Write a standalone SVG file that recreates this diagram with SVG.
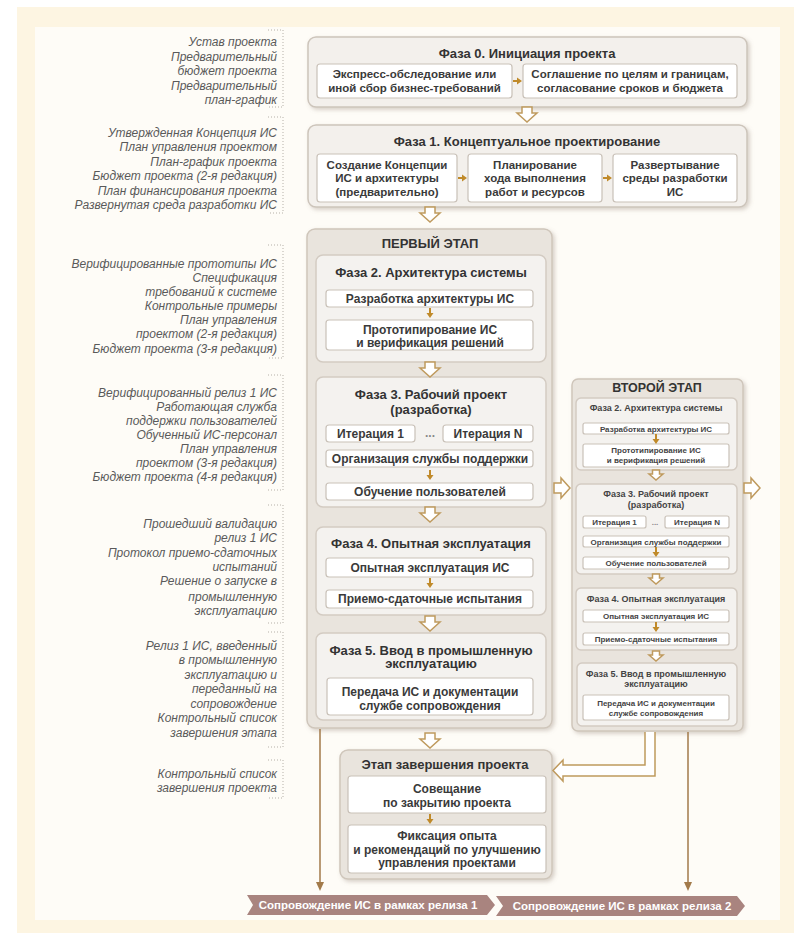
<svg xmlns="http://www.w3.org/2000/svg" width="794" height="933" viewBox="0 0 794 933">
<style>
text{font-family:"Liberation Sans",Arial,sans-serif;fill:#333;text-anchor:middle}
.lt{font-style:italic;font-size:12px;fill:#5a5a5a;text-anchor:end}
.ttl{font-weight:bold;font-size:13px}
.sub{font-weight:bold;font-size:11.5px;fill:#3a3a3a}
.sub1{font-weight:bold;font-size:12px;fill:#3a3a3a}
.s2t{font-weight:bold;font-size:9px;fill:#444}
.s2s{font-weight:bold;font-size:8px;fill:#444}
.ban{font-weight:bold;font-size:11.5px;fill:#fff}
.stage{fill:#e9e4dd;stroke:#cfc6bb;stroke-width:1.5;filter:url(#sh)}
.phase{fill:#f4f2ef;stroke:#d3cbc2;stroke-width:1.5}
.top{fill:#f3f0ec;stroke:#cdc5bb;stroke-width:1.5;filter:url(#sh)}
.box{fill:#fff;stroke:#c9c1b8;stroke-width:1.2}
.dot{stroke:#b5b0a8;stroke-width:1;stroke-dasharray:1,2;fill:none}
.hol{fill:#fff;stroke:#bf9a5e;stroke-width:1.5}
.sm{fill:#c08a2a}
.ln{stroke:#a27a4a;stroke-width:1.5;fill:none}
</style>
<defs>
<filter id="sh" x="-10%" y="-10%" width="125%" height="125%">
<feDropShadow dx="2" dy="2" stdDeviation="2" flood-color="#8a7a6a" flood-opacity="0.35"/>
</filter>
<path id="hd" d="M-5,0 V6 H-10 L0,15 L10,6 H5 V0 Z"/>
<path id="hds" d="M-3.5,0 V4 H-7 L0,10 L7,4 H3.5 V0 Z"/>
<path id="hr" d="M0,-5 H7 V-10 L16,0 L7,10 V5 H0 Z"/>
<path id="sd" d="M-1,0 H1 V5 H3.5 L0,10 L-3.5,5 H-1 Z"/>
<path id="sr" d="M0,-1 V1 H4 V3.5 L9,0 L4,-3.5 V-1 Z"/>
</defs>

<rect x="17" y="7" width="777" height="926" fill="#fdf5e2"/>
<rect x="35" y="27" width="745" height="893" fill="#fefcf7"/>

<g id="left-notes">
<g class="dot">
<path d="M268,30 H283 V107 H268"/>
<path d="M268,117 H283 V213 H268"/>
<path d="M268,245 H283 V358 H268"/>
<path d="M268,375 H283 V490 H268"/>
<path d="M268,505 H283 V623 H268"/>
<path d="M268,632 H283 V747 H268"/>
<path d="M268,760 H283 V798 H268"/>
</g>
<text class="lt" x="277" y="46">Устав проекта</text>
<text class="lt" x="277" y="60.5">Предварительный</text>
<text class="lt" x="277" y="75">бюджет проекта</text>
<text class="lt" x="277" y="89.5">Предварительный</text>
<text class="lt" x="277" y="104">план-график</text>

<text class="lt" x="277" y="136.5">Утвержденная Концепция ИС</text>
<text class="lt" x="277" y="151">План управления проектом</text>
<text class="lt" x="277" y="165.5">План-график проекта</text>
<text class="lt" x="277" y="180">Бюджет проекта (2-я редакция)</text>
<text class="lt" x="277" y="194.5">План финансирования проекта</text>
<text class="lt" x="277" y="209">Развернутая среда разработки ИС</text>

<text class="lt" x="277" y="267.5">Верифицированные прототипы ИС</text>
<text class="lt" x="277" y="282">Спецификация</text>
<text class="lt" x="277" y="296">требований к системе</text>
<text class="lt" x="277" y="310">Контрольные примеры</text>
<text class="lt" x="277" y="324">План управления</text>
<text class="lt" x="277" y="338">проектом (2-я редакция)</text>
<text class="lt" x="277" y="352.5">Бюджет проекта (3-я редакция)</text>

<text class="lt" x="277" y="396.5">Верифицированный релиз 1 ИС</text>
<text class="lt" x="277" y="410.5">Работающая служба</text>
<text class="lt" x="277" y="424.5">поддержки пользователей</text>
<text class="lt" x="277" y="438.5">Обученный ИС-персонал</text>
<text class="lt" x="277" y="452.5">План управления</text>
<text class="lt" x="277" y="466.5">проектом (3-я редакция)</text>
<text class="lt" x="277" y="481">Бюджет проекта (4-я редакция)</text>

<text class="lt" x="277" y="527.5">Прошедший валидацию</text>
<text class="lt" x="277" y="542">релиз 1 ИС</text>
<text class="lt" x="277" y="556.5">Протокол приемо-сдаточных</text>
<text class="lt" x="277" y="571">испытаний</text>
<text class="lt" x="277" y="585">Решение о запуске в</text>
<text class="lt" x="277" y="600.5">промышленную</text>
<text class="lt" x="277" y="615">эксплуатацию</text>

<text class="lt" x="277" y="649.5">Релиз 1 ИС, введенный</text>
<text class="lt" x="277" y="664">в промышленную</text>
<text class="lt" x="277" y="678.5">эксплуатацию и</text>
<text class="lt" x="277" y="693">переданный на</text>
<text class="lt" x="277" y="707.5">сопровождение</text>
<text class="lt" x="277" y="722">Контрольный список</text>
<text class="lt" x="277" y="736.5">завершения этапа</text>

<text class="lt" x="277" y="777.5">Контрольный список</text>
<text class="lt" x="277" y="792">завершения проекта</text>
</g>

<g id="phase0">
<rect class="top" x="308" y="37" width="439" height="70" rx="8"/>
<text class="ttl" x="527" y="57.5">Фаза 0. Инициация проекта</text>
<rect class="box" x="317" y="64" width="195" height="34" rx="3"/>
<text class="sub" x="414.5" y="77.5">Экспресс-обследование или</text>
<text class="sub" x="414.5" y="92">иной сбор бизнес-требований</text>
<rect class="box" x="523" y="64" width="214" height="34" rx="3"/>
<text class="sub" x="630" y="77.5">Соглашение по целям и границам,</text>
<text class="sub" x="630" y="92">согласование сроков и бюджета</text>
</g>

<g id="phase1">
<rect class="top" x="308" y="125" width="439" height="82" rx="8"/>
<text class="ttl" x="527" y="145.5">Фаза 1. Концептуальное проектирование</text>
<rect class="box" x="317" y="154" width="140" height="48" rx="3"/>
<text class="sub" x="387" y="168.5">Создание Концепции</text>
<text class="sub" x="387" y="182">ИС и архитектуры</text>
<text class="sub" x="387" y="196">(предварительно)</text>
<rect class="box" x="468" y="154" width="134" height="48" rx="3"/>
<text class="sub" x="535" y="168.5">Планирование</text>
<text class="sub" x="535" y="182">хода выполнения</text>
<text class="sub" x="535" y="196">работ и ресурсов</text>
<rect class="box" x="613" y="154" width="124" height="48" rx="3"/>
<text class="sub" x="675" y="168.5">Развертывание</text>
<text class="sub" x="675" y="182">среды разработки</text>
<text class="sub" x="675" y="196">ИС</text>
</g>

<g id="stage1">
<rect class="stage" x="307" y="229" width="245" height="499" rx="8"/>
<text class="ttl" x="430" y="247.5">ПЕРВЫЙ ЭТАП</text>
</g>

<g id="s1-phase2">
<rect class="phase" x="316" y="255" width="230" height="107" rx="7"/>
<text class="ttl" x="431" y="276.5">Фаза 2. Архитектура системы</text>
<rect class="box" x="326" y="290" width="207" height="17" rx="3"/>
<text class="sub1" x="430" y="303">Разработка архитектуры ИС</text>
<rect class="box" x="326" y="320" width="207" height="30" rx="3"/>
<text class="sub1" x="430" y="333.5">Прототипирование ИС</text>
<text class="sub1" x="430" y="347">и верификация решений</text>
</g>

<g id="s1-phase3">
<rect class="phase" x="316" y="377" width="230" height="130" rx="7"/>
<text class="ttl" x="431" y="398.5">Фаза 3. Рабочий проект</text>
<text class="ttl" x="431" y="413.5">(разработка)</text>
<rect class="box" x="326" y="425" width="89" height="17" rx="3"/>
<text class="sub1" x="370.5" y="437.5">Итерация 1</text>
<text class="sub1" x="430" y="437" style="fill:#888">...</text>
<rect class="box" x="443" y="425" width="90" height="17" rx="3"/>
<text class="sub1" x="488" y="437.5">Итерация N</text>
<rect class="box" x="326" y="450" width="207" height="17" rx="3"/>
<text class="sub1" x="430" y="462.5">Организация службы поддержки</text>
<rect class="box" x="326" y="483" width="207" height="17" rx="3"/>
<text class="sub1" x="430" y="495.5">Обучение пользователей</text>
</g>

<g id="s1-phase4">
<rect class="phase" x="316" y="527" width="230" height="88" rx="7"/>
<text class="ttl" x="431" y="547.5">Фаза 4. Опытная эксплуатация</text>
<rect class="box" x="326" y="558" width="207" height="19" rx="3"/>
<text class="sub1" x="430" y="571.5">Опытная эксплуатация ИС</text>
<rect class="box" x="326" y="590" width="207" height="18" rx="3"/>
<text class="sub1" x="430" y="603">Приемо-сдаточные испытания</text>
</g>

<g id="s1-phase5">
<rect class="phase" x="316" y="633" width="230" height="87" rx="7"/>
<text class="ttl" x="431" y="654.5">Фаза 5. Ввод в промышленную</text>
<text class="ttl" x="431" y="668">эксплуатацию</text>
<rect class="box" x="327" y="678" width="206" height="37" rx="3"/>
<text class="sub1" x="430" y="696">Передача ИС и документации</text>
<text class="sub1" x="430" y="710">службе сопровождения</text>
</g>

<g id="stage2">
<rect class="stage" x="572" y="379" width="171" height="352" rx="6"/>
<text class="ttl" x="657" y="392" style="font-size:12.5px">ВТОРОЙ ЭТАП</text>
</g>

<g id="s2-phase2">
<rect class="phase" x="576" y="398" width="161" height="72" rx="5"/>
<text class="s2t" x="656" y="411">Фаза 2. Архитектура системы</text>
<rect class="box" x="583" y="423" width="146" height="11" rx="2"/>
<text class="s2s" x="656" y="431.5">Разработка архитектуры ИС</text>
<rect class="box" x="583" y="444" width="146" height="23" rx="2"/>
<text class="s2s" x="656" y="452.5">Прототипирование ИС</text>
<text class="s2s" x="656" y="463">и верификация решений</text>
</g>

<g id="s2-phase3">
<rect class="phase" x="576" y="484" width="161" height="90" rx="5"/>
<text class="s2t" x="656" y="497">Фаза 3. Рабочий проект</text>
<text class="s2t" x="656" y="508">(разработка)</text>
<rect class="box" x="583" y="516" width="63" height="12" rx="2"/>
<text class="s2s" x="614.5" y="525">Итерация 1</text>
<text class="s2s" x="655" y="525" style="fill:#888">...</text>
<rect class="box" x="665" y="516" width="64" height="12" rx="2"/>
<text class="s2s" x="697" y="525">Итерация N</text>
<rect class="box" x="583" y="536" width="146" height="11" rx="2"/>
<text class="s2s" x="656" y="544.5">Организация службы поддержки</text>
<rect class="box" x="583" y="557" width="146" height="12" rx="2"/>
<text class="s2s" x="656" y="566">Обучение пользователей</text>
</g>

<g id="s2-phase4">
<rect class="phase" x="576" y="588" width="161" height="62" rx="5"/>
<text class="s2t" x="656" y="602">Фаза 4. Опытная эксплуатация</text>
<rect class="box" x="583" y="610" width="146" height="12" rx="2"/>
<text class="s2s" x="656" y="619">Опытная эксплуатация ИС</text>
<rect class="box" x="583" y="633" width="146" height="12" rx="2"/>
<text class="s2s" x="656" y="642">Приемо-сдаточные испытания</text>
</g>

<g id="s2-phase5">
<rect class="phase" x="577" y="663" width="160" height="63" rx="5"/>
<text class="s2t" x="656" y="677">Фаза 5. Ввод в промышленную</text>
<text class="s2t" x="656" y="687">эксплуатацию</text>
<rect class="box" x="583" y="695" width="146" height="25" rx="2"/>
<text class="s2s" x="656" y="705.5">Передача ИС и документации</text>
<text class="s2s" x="656" y="716">службе сопровождения</text>
</g>

<g id="completion">
<rect class="stage" x="340" y="750" width="212" height="129" rx="8"/>
<text class="ttl" x="445" y="769">Этап завершения проекта</text>
<rect class="box" x="348" y="776" width="198" height="37" rx="3"/>
<text class="sub1" x="447" y="793">Совещание</text>
<text class="sub1" x="447" y="807">по закрытию проекта</text>
<rect class="box" x="348" y="825" width="198" height="48" rx="3"/>
<text class="sub1" x="447" y="840">Фиксация опыта</text>
<text class="sub1" x="447" y="853.5">и рекомендаций по улучшению</text>
<text class="sub1" x="447" y="867">управления проектами</text>
</g>

<g id="release1">
<polygon points="247,895 487,895 495,905 487,915 247,915 253,905" fill="#a9847f"/>
<text class="ban" x="368" y="909">Сопровождение ИС в рамках релиза 1</text>
</g>
<g id="release2">
<polygon points="496,896 737,896 745,906 737,916 496,916 503,906" fill="#a9847f"/>
<text class="ban" x="622" y="910">Сопровождение ИС в рамках релиза 2</text>
</g>

<g id="connectors">
<use href="#sr" class="sm" x="513" y="81"/>
<use href="#sr" class="sm" x="458" y="178"/>
<use href="#sr" class="sm" x="603" y="178"/>
<use href="#hd" class="hol" x="527" y="107"/>
<use href="#hd" class="hol" x="430" y="207"/>
<use href="#sd" class="sm" x="430" y="308"/>
<use href="#hd" class="hol" x="430" y="362"/>
<use href="#sd" class="sm" x="430" y="470"/>
<use href="#hd" class="hol" x="430" y="507"/>
<use href="#sd" class="sm" x="430" y="578"/>
<use href="#hd" class="hol" x="430" y="616"/>
<use href="#hd" class="hol" x="430" y="733"/>
<use href="#sd" class="sm" x="430" y="814"/>
<use href="#hr" class="hol" x="554" y="488"/>
<use href="#hr" class="hol" x="744" y="488"/>
<use href="#sd" class="sm" x="656" y="434"/>
<use href="#hds" class="hol" x="656" y="470"/>
<use href="#sd" class="sm" x="656" y="547"/>
<use href="#hds" class="hol" x="656" y="574"/>
<use href="#sd" class="sm" x="656" y="622"/>
<use href="#hds" class="hol" x="656" y="651"/>
<path class="hol" d="M645,732 V765 H563 V760 L553,770.5 L563,781 V776 H655 V732"/>
<path class="ln" d="M320,729 V883"/>
<polygon points="316,882 324,882 320,891" fill="#a27a4a"/>
<path class="ln" d="M688,732 V883"/>
<polygon points="684,882 692,882 688,891" fill="#a27a4a"/>
</g>
</svg>
